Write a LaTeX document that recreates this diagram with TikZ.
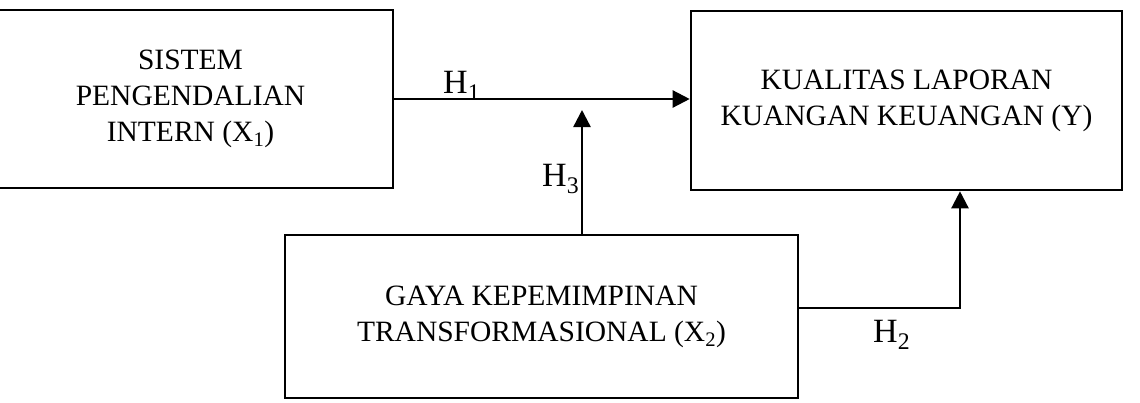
\documentclass[tikz,border=0pt]{standalone}
\usepackage{fontspec}
\setmainfont{Liberation Serif}
\usetikzlibrary{arrows.meta}

\begin{document}
\begin{tikzpicture}[x=1pt,y=-1pt,
  every node/.style={font=\fontsize{29.5}{36}\selectfont},
  var/.style={draw=black,line width=2.6pt,align=center,inner sep=0pt},
  hyp/.style={font=\fontsize{34}{40}\selectfont,inner sep=0pt,anchor=base west},
  ar/.style={-{Triangle[length=17pt,width=17pt]},line width=2.4pt}]
\useasboundingbox (0,0) rectangle (1140,402);
\clip (0,0) rectangle (1140,402);
\node[var,minimum width=405pt,minimum height=178pt] (x1) at (190.5,99) {SISTEM\\PENGENDALIAN\\INTERN (X\textsubscript{1})};
\node[var,minimum width=431pt,minimum height=179pt] (yy) at (906.5,100.5) {KUALITAS LAPORAN\\KUANGAN KEUANGAN (Y)};
\node[var,minimum width=513pt,minimum height=163pt] (x2) at (541.5,316.5) {GAYA KEPEMIMPINAN\\TRANSFORMASIONAL (X\textsubscript{2})};
\coordinate (h3end) at (582,110);
\coordinate (bend) at (960,308);
\draw[ar] (x1.east) -- (x1.east -| yy.west);
\draw[ar] (x2.north -| h3end) -- (h3end);
\draw[ar] (x2.east |- bend) -- (bend) -- (yy.south -| bend);
\node[hyp] (h1) at (443,93) {H\textsubscript{1}};
\node[hyp] (h3) at (542,186) {H\textsubscript{3}};
\node[hyp] (h2) at (873,342) {H\textsubscript{2}};
\end{tikzpicture}
\end{document}
